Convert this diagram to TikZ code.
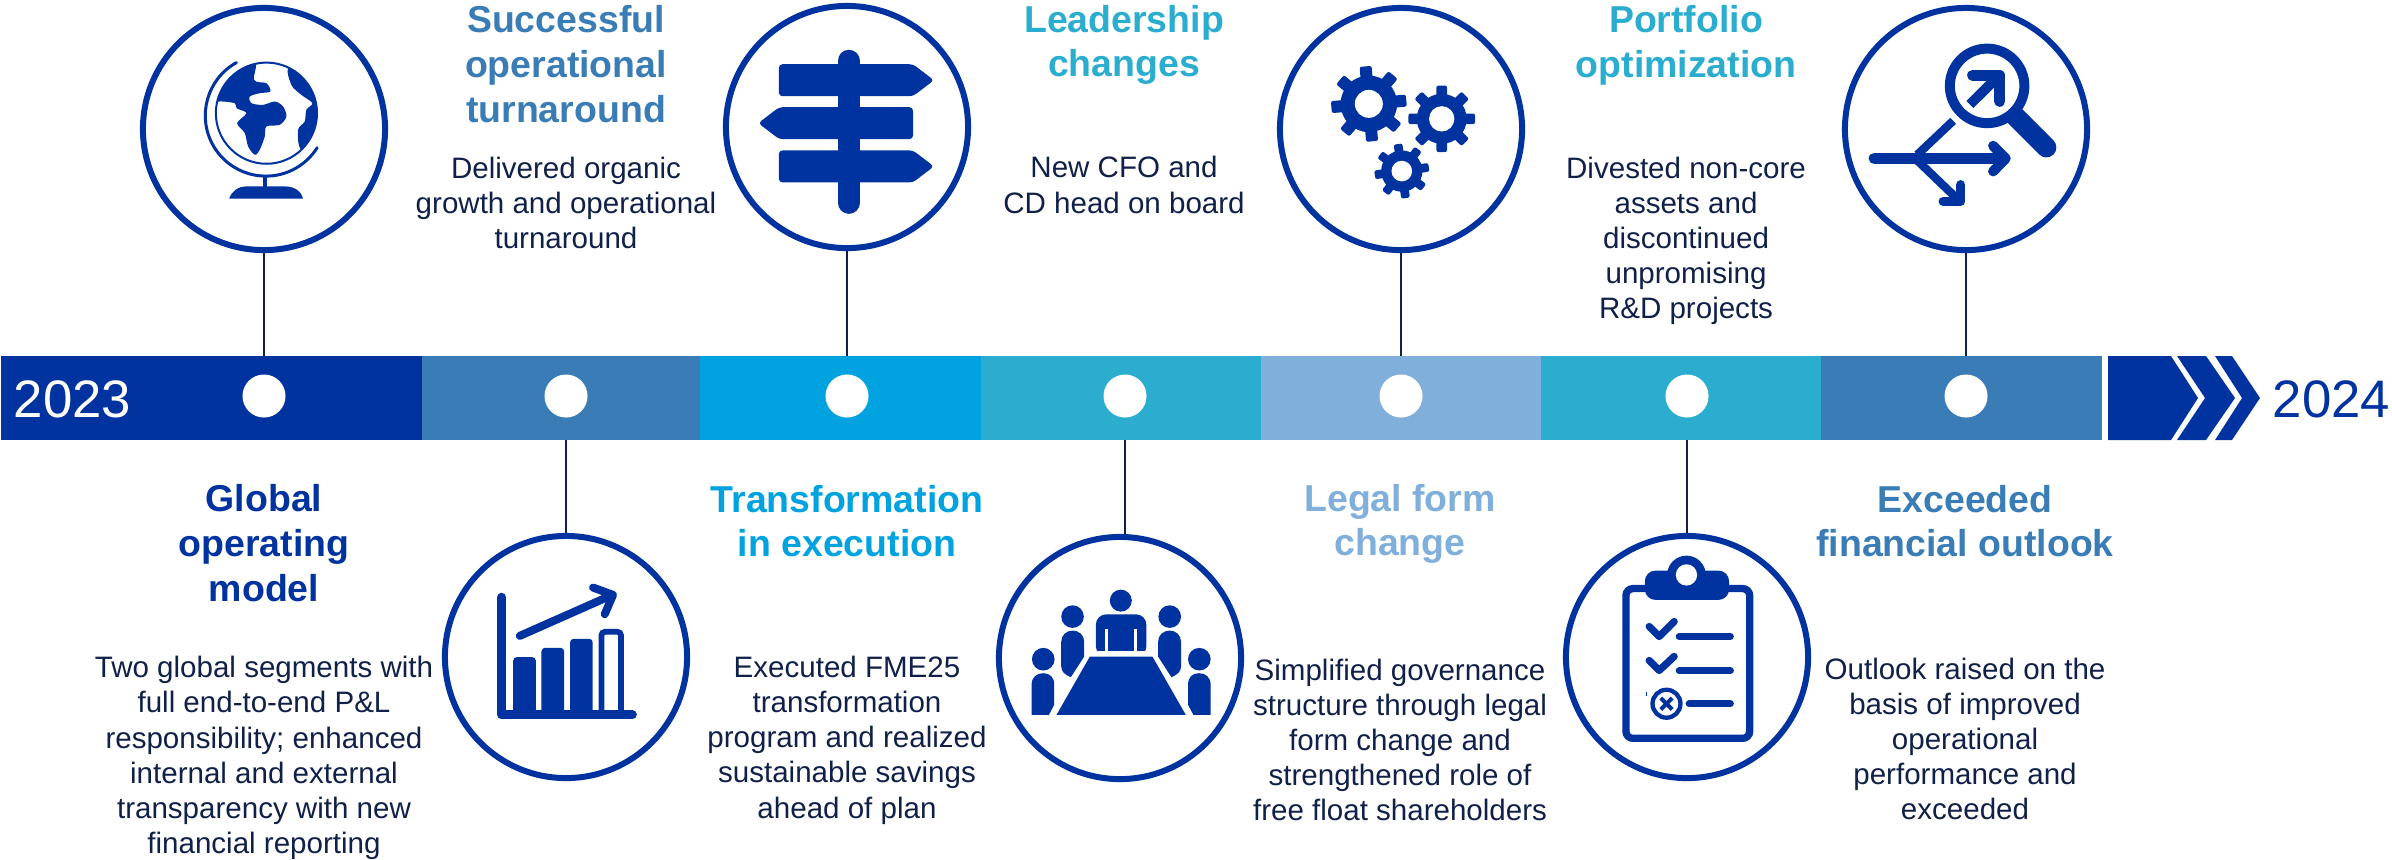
\documentclass[tikz,border=0pt]{standalone}
\usepackage{fontspec}
\setmainfont{Liberation Sans}
\definecolor{fmeblue}{RGB}{0,51,160}
\definecolor{fmesteel}{RGB}{58,125,182}
\definecolor{fmecyan}{RGB}{0,163,224}
\definecolor{fmeteal}{RGB}{42,173,207}
\definecolor{fmepale}{RGB}{127,175,218}
\definecolor{fmeink}{RGB}{16,32,72}
\tikzset{
    segment/.style={anchor=west, minimum height=0.84cm, inner sep=0pt, outer sep=0pt},
    whitedot/.style={circle, fill=white, minimum size=0.43cm, inner sep=0pt},
    bubble/.style={circle, draw=fmeblue, line width=0.06cm, fill=white, minimum size=2.42cm, inner sep=0pt},
    link/.style={draw=fmeink, line width=0.6pt},
    headline/.style={align=center, inner sep=0pt, font=\bfseries\fontsize{10.65}{12.7}\selectfont},
    blurb/.style={align=center, inner sep=0pt, text=fmeink, font=\fontsize{8.4}{10}\selectfont},
    yearlabel/.style={anchor=base west, inner sep=0pt, font=\fontsize{15}{18}\selectfont},
    zoomed/.style={x=0.003333cm, y=-0.003333cm, fmeblue},
}
% one gear: x, y, body radius, tip radius, hole radius, turn
\newcommand{\gearicon}[6]{
    \foreach \a in {0,45,...,315} {
        \fill[shift={(#1,#2)}, rotate=\a+#6, rounded corners=0.6pt] (-0.16*#4,0) rectangle (0.16*#4,#4);
    }
    \fill (#1,#2) circle (#3);
    \fill[white] (#1,#2) circle (#5);
}
\begin{document}
\begin{tikzpicture}[x=0.01cm, y=-0.01cm]
    \useasboundingbox (0,0) rectangle (2392,859);
    % bar
    \node[segment, fill=fmeblue, minimum width=4.21cm] (sega) at (1,398) {};
    \node[segment, fill=fmesteel, minimum width=2.79cm] (segb) at (422,398) {};
    \node[segment, fill=fmecyan, minimum width=2.81cm] (segc) at (700,398) {};
    \node[segment, fill=fmeteal, minimum width=2.80cm] (segd) at (981,398) {};
    \node[segment, fill=fmepale, minimum width=2.80cm] (sege) at (1261,398) {};
    \node[segment, fill=fmeteal, minimum width=2.80cm] (segf) at (1541,398) {};
    \node[segment, fill=fmesteel, minimum width=2.81cm] (segg) at (1821,398) {};
    \fill[fmeblue] (2108,356) -- (2171,356) -- (2198,398) -- (2171,440) -- (2108,440) -- cycle;
    \fill[fmeblue] (2177,356) -- (2206,356) -- (2235,398) -- (2206,440) -- (2177,440) -- (2205,398) -- cycle;
    \fill[fmeblue] (2215,356) -- (2232,356) -- (2260,398) -- (2232,440) -- (2215,440) -- (2242,398) -- cycle;
    \node[yearlabel, text=white] (start) at (13,417) {2023};
    \node[yearlabel, text=fmeblue] (end) at (2272,417) {2024};
    \node[whitedot] (dota) at (264,396) {};
    \node[whitedot] (dotb) at (566,396) {};
    \node[whitedot] (dotc) at (847,396) {};
    \node[whitedot] (dotd) at (1125,396) {};
    \node[whitedot] (dote) at (1401,396) {};
    \node[whitedot] (dotf) at (1687,396) {};
    \node[whitedot] (dotg) at (1966,396) {};
    % circles
    \node[bubble] (globe) at (264,129) {};
    \node[bubble] (chart) at (566,657) {};
    \node[bubble] (signs) at (847,127) {};
    \node[bubble] (table) at (1120,658) {};
    \node[bubble] (gears) at (1401,129) {};
    \node[bubble] (check) at (1687,657) {};
    \node[bubble] (scope) at (1966,129) {};
    \draw[link] (globe.south) -- (globe.south |- sega.north);
    \draw[link] (chart.north) -- (chart.north |- segb.south);
    \draw[link] (signs.south) -- (signs.south |- segc.north);
    \draw[link] (dotd |- table.north) -- (dotd |- segd.south);
    \draw[link] (gears.south) -- (gears.south |- sege.north);
    \draw[link] (check.north) -- (check.north |- segf.south);
    \draw[link] (scope.south) -- (scope.south |- segg.north);
    % globe
    \begin{scope}[shift={(120,0)}, zoomed]
        \draw[line width=0.02cm, fill=white] (440,340) circle (152);
        \begin{scope}
            \clip (440,340) circle (152);
            \fill plot[smooth cycle, tension=0.5] coordinates {(402,170) (403,240) (440,250) (452,275) (420,280) (390,290) (395,310) (430,315) (465,305) (490,320) (500,350) (480,375) (440,380) (435,410) (420,450) (405,465) (385,440) (375,400) (352,370) (380,340) (350,325) (345,310) (295,305) (260,320) (260,170)};
            \fill plot[smooth cycle, tension=0.5] coordinates {(510,200) (515,255) (545,285) (578,310) (560,330) (555,365) (535,390) (545,450) (620,450) (620,200)};
        \end{scope}
        \draw[line width=0.03cm, line cap=round] (350,188) arc[start angle=241, end angle=32, radius=182];
        \draw[line width=0.04cm] (437,525) -- (437,565);
        \fill (328,597) .. controls (335,575) and (355,560) .. (380,560) -- (495,560) .. controls (525,560) and (545,575) .. (550,597) -- cycle;
    \end{scope}
    % chart
    \begin{scope}[shift={(430,520)}, zoomed]
        \draw[line width=0.09cm, line cap=round, line join=round] (215,232) -- (215,585) -- (608,585);
        \fill[rounded corners=1pt] (250,585) rectangle (318,412);
        \fill[rounded corners=1pt] (335,585) rectangle (403,384);
        \fill[rounded corners=1pt] (421,585) rectangle (489,357);
        \draw[line width=0.057cm, rounded corners=1pt] (515,585) -- (515,336) -- (574,336) -- (574,585);
        \draw[line width=0.08cm, line cap=round, line join=round] (270,348) -- (548,225);
        \draw[line width=0.08cm, line cap=round, line join=round] (490,203) -- (550,225) -- (525,283);
    \end{scope}
    % signpost
    \begin{scope}[shift={(700,0)}, zoomed]
        \draw[line width=0.223cm, line cap=round] (447,183) -- (447,609);
        \fill[rounded corners=1pt] (237,193) -- (640,193) -- (703,241) -- (640,289) -- (237,289) -- cycle;
        \fill[rounded corners=1pt] (175,370) -- (238,322) -- (640,322) -- (640,418) -- (238,418) -- cycle;
        \fill[rounded corners=1pt] (237,452) -- (640,452) -- (703,500) -- (640,548) -- (237,548) -- cycle;
    \end{scope}
    % table
    \begin{scope}[shift={(985,560)}, zoomed]
        \fill (408,122) circle (33);
        \fill (263,170) circle (34);
        \fill (555,170) circle (34);
        \fill (175,298) circle (34);
        \fill (644,298) circle (34);
        \fill[rounded corners=3pt] (333,290) -- (333,163) -- (485,163) -- (485,290) -- cycle;
        \fill[white] (360,208) rectangle (370,272);
        \fill[white] (447,208) rectangle (458,272);
        \fill[white] (320,272) rectangle (500,290);
        \fill (315,290) -- (503,290) -- (603,465) -- (215,465) -- cycle;
        \fill (229,246) .. controls (229,225) and (245,212) .. (263,212) .. controls (282,212) and (298,225) .. (298,246) -- (298,290) -- (258,352) .. controls (240,345) and (229,335) .. (229,320) -- cycle;
        \fill (589,246) .. controls (589,225) and (573,212) .. (555,212) .. controls (536,212) and (520,225) .. (520,246) -- (520,290) -- (560,352) .. controls (578,345) and (589,335) .. (589,320) -- cycle;
        \fill (140,465) -- (140,375) .. controls (140,352) and (155,340) .. (175,340) .. controls (195,340) and (208,352) .. (208,375) -- (208,435) -- (192,465) -- cycle;
        \fill (678,465) -- (678,375) .. controls (678,352) and (663,340) .. (643,340) .. controls (623,340) and (610,352) .. (610,375) -- (610,435) -- (626,465) -- cycle;
    \end{scope}
    % gears
    \begin{scope}[shift={(1260,0)}, zoomed]
        \gearicon{327}{312}{85}{113}{42}{5}
        \gearicon{546}{357}{75}{100}{38}{0}
        \gearicon{426}{514}{62}{82}{31}{8}
    \end{scope}
    % clipboard
    \begin{scope}[shift={(1550,520)}, zoomed]
        \draw[line width=0.073cm, rounded corners=2pt] (228,206) rectangle (600,656);
        \fill[rounded corners=3pt] (285,240) -- (285,152) -- (538,152) -- (538,240) -- cycle;
        \fill (410,165) circle (58);
        \fill[white] (410,165) circle (32);
        \draw[line width=0.073cm, line cap=round, line join=round] (298,320) -- (328,350) -- (373,305);
        \draw[line width=0.073cm, line cap=round, line join=round] (298,422) -- (328,452) -- (373,410);
        \draw[line width=0.07cm, line cap=round] (388,350) -- (542,350);
        \draw[line width=0.07cm, line cap=round] (388,453) -- (542,453);
        \draw[line width=0.07cm, line cap=round] (418,552) -- (542,552);
        \draw[line width=0.043cm] (350,552) circle (42);
        \draw[line width=0.04cm] (333,535) -- (367,569);
        \draw[line width=0.04cm] (367,535) -- (333,569);
        \draw[line width=0.006cm] (288,516) -- (288,528);
    \end{scope}
    % magnifier
    \begin{scope}[shift={(1830,0)}, zoomed]
        \draw[line width=0.1cm] (472,258) circle (112);
        \draw[line width=0.2cm, line cap=round] (558,351) -- (650,443);
        \draw[line width=0.107cm, line cap=round, line join=round] (428,226) -- (510,226) -- (510,305);
        \draw[line width=0.1cm] (420,314) -- (500,235);
        \draw[line width=0.113cm, line cap=round] (133,476) -- (520,476);
        \draw[line width=0.1cm, line cap=round, line join=round] (490,438) -- (528,476) -- (490,515);
        \draw[line width=0.083cm] (370,363) -- (262,465);
        \draw[line width=0.083cm] (262,482) -- (385,600);
        \draw[line width=0.093cm, line cap=round, line join=round] (340,605) -- (393,605) -- (393,555);
    \end{scope}
    % texts above
    \node[headline, text=fmesteel] (taba) at (566,64) {Successful\\operational\\turnaround};
    \node[blurb] (txta) at (566,203) {Delivered organic\\growth and operational\\turnaround};
    \node[headline, text=fmeteal] (tabb) at (1124,45) {Leadership\\changes};
    \node[blurb] (txtb) at (1124,185) {New CFO and\\CD head on board};
    \node[headline, text=fmeteal] (tabc) at (1686,45) {Portfolio\\optimization};
    \node[blurb] (txtc) at (1686,241) {Divested non-core\\assets and\\discontinued\\unpromising\\R\&D projects};
    % texts below
    \node[headline, text=fmeblue] (tabd) at (264,543) {Global\\operating\\model};
    \node[blurb] (txtd) at (264,758) {Two global segments with\\full end-to-end P\&L\\responsibility; enhanced\\internal and external\\transparency with new\\financial reporting};
    \node[headline, text=fmecyan] (tabe) at (847,521) {Transformation\\in execution};
    \node[blurb] (txte) at (847,740) {Executed FME25\\transformation\\program and realized\\sustainable savings\\ahead of plan};
    \node[headline, text=fmepale] (tabf) at (1400,524) {Legal form\\change};
    \node[blurb] (txtf) at (1400,740) {Simplified governance\\structure through legal\\form change and\\strengthened role of\\free float shareholders};
    \node[headline, text=fmesteel] (tabg) at (1965,521) {Exceeded\\financial outlook};
    \node[blurb] (txtg) at (1965,739) {Outlook raised on the\\basis of improved\\operational\\performance and\\exceeded};
\end{tikzpicture}
\end{document}
